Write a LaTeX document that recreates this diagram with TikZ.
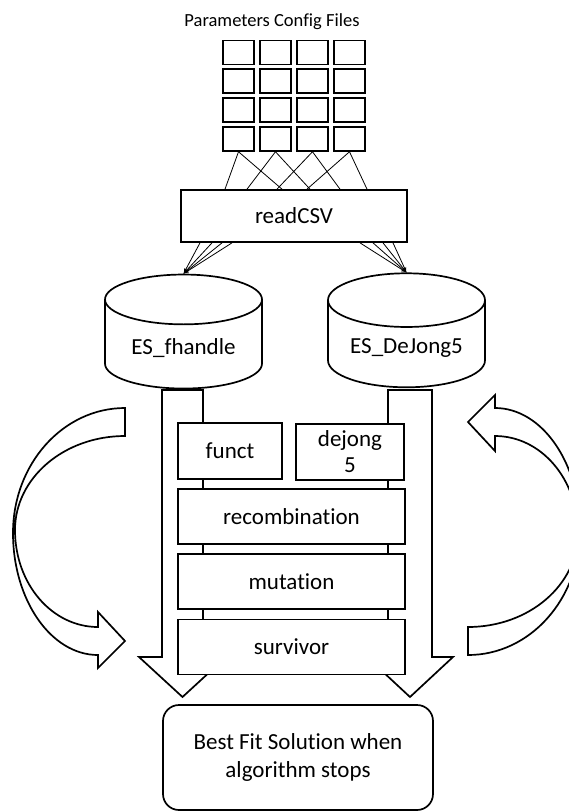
\documentclass[tikz,border=0pt]{standalone}
\usepackage{fontspec}
\setmainfont{Carlito}[Ligatures=NoCommon]
\usepackage{tikz}
\usetikzlibrary{shapes,arrows}
\tikzstyle{line} = [draw, line width=0.8pt, -latex']
\tikzstyle{cfg} = [rectangle, draw, line width=1.7pt, minimum width=31pt, minimum height=24pt, inner sep=0pt]
\tikzstyle{block} = [rectangle, draw, line width=1.7pt, fill=white, minimum height=55pt, text centered, font=\fontsize{23}{28}\selectfont]
\tikzstyle{db} = [cylinder, shape border rotate=90, draw, line width=1.7pt, fill=white, minimum width=157pt, minimum height=114pt, aspect=0.45, font=\fontsize{23}{28}\selectfont]
\tikzstyle{fatarrow} = [draw, line width=1.7pt, fill=white, line join=miter]

\begin{document}
\begin{tikzpicture}[x=1pt, y=-1pt]
	\clip (0,0) rectangle (569,812);
	
	\node [font=\fontsize{18.5}{20}\selectfont] (title) at (272,22) {Parameters Config Files};
	
	% config files
	\foreach \r in {1,...,4}
	\foreach \c in {1,...,4}
	\node [cfg] (f\r\c) at ({238.5+37*(\c-1)},{52.5+28.8*(\r-1)}) {};
	
	\node [block, minimum width=226pt, minimum height=52pt] (csv) at (294,216) {readCSV};
	
	\foreach \c/\l/\r in {1/-69/-12, 2/-47/16, 3/-17/46, 4/13/73}
	{
		\draw [line width=0.8pt] (f4\c.south) -- ([xshift=\l pt]csv.north);
		\draw [line width=0.8pt] (f4\c.south) -- ([xshift=\r pt]csv.north);
	}
	
	% big arrows, behind everything
	\path [fatarrow] (162,390) -- (162,657) -- (139,657) -- (182.5,697) -- (226,657) -- (203,657) -- (203,390) -- cycle;
	\path [fatarrow] (388,390) -- (388,657) -- (367,657) -- (410,697) -- (453,657) -- (432,657) -- (432,390) -- cycle;
	
	\node [db] (fh) at (183.5,348) {ES\_fhandle};
	\node [db] (dj) at (406.5,348) {ES\_DeJong5};
	
	\foreach \x in {-94,-82,-72,-62}
	\path [line] ([xshift=\x pt]csv.south) to (fh.north);
	\foreach \x in {66,79,89,99}
	\path [line] ([xshift=\x pt]csv.south) to (dj.north);
	
	\node [block, minimum width=104pt, minimum height=56pt] (funct) at (230,451) {funct};
	\node [block, minimum width=108pt, minimum height=56pt, text width=90pt, align=center] (dejong) at (350,452) {dejong\\[-2pt]5};
	\node [block, minimum width=227pt] (recomb) at (291.5,516.5) {recombination};
	\node [block, minimum width=227pt, below of=recomb, node distance=65pt] (mut) {mutation};
	\node [block, minimum width=227pt, below of=mut, node distance=65.5pt] (surv) {survivor};
	
	\node [block, rounded corners=16pt, minimum width=270pt, minimum height=105pt, align=center] (best) at (298,757.5) {Best Fit Solution when\\algorithm stops};
	
	% curved arrows
	\path [fatarrow] (125,408) .. controls (63,408) and (13,464) .. (13,533) .. controls (13,600) and (51,655) .. (98,655) -- (98,668) -- (125,641) -- (98,612) -- (98,627) .. controls (52,627) and (15,584) .. (15,530) .. controls (15,478) and (64,436) .. (125,436) -- cycle;
	\begin{scope}[rotate around={180:(296.5,531.5)}]
	\path [fatarrow] (125,408) .. controls (63,408) and (13,464) .. (13,533) .. controls (13,600) and (51,655) .. (98,655) -- (98,668) -- (125,641) -- (98,612) -- (98,627) .. controls (52,627) and (15,584) .. (15,530) .. controls (15,478) and (64,436) .. (125,436) -- cycle;
	\end{scope}
\end{tikzpicture}
\end{document}
